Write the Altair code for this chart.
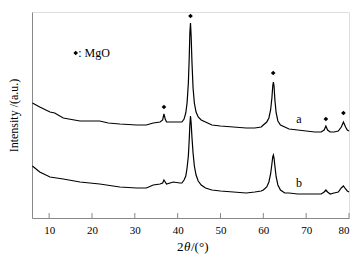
import altair as alt
import pandas as pd

# ---- data ----
two_theta_a = [6.1, 7.8, 10.2, 11.3, 13.3, 17.2, 21.8, 23.8, 26.5, 30.4, 32.7, 34.3, 35.9, 36.5, 36.8, 37.1, 37.4, 39.0,
               40.5, 41.0, 41.5, 41.9, 42.2, 42.5, 42.7, 42.85, 43.0, 43.15, 43.35, 43.6, 43.9, 44.3, 44.8, 45.5,
               46.5, 48.0, 50.0, 53.0, 56.0, 58.0, 59.5, 60.0, 60.8, 61.3, 61.7, 62.0, 62.2, 62.35, 62.5, 62.7, 63.0,
               63.4, 64.0, 65.0, 66.0, 68.0, 70.0, 72.0, 73.5, 74.2, 74.6, 75.0, 75.6, 76.5, 77.5, 78.2, 78.7, 79.2,
               79.6, 80.0]
intensity_a = [115, 111, 106, 105, 100, 97, 97, 95, 94, 93, 93, 95, 96, 98, 104, 99, 96, 96,
               96, 96, 99, 105, 115, 135, 160, 185, 195, 182, 155, 130, 115, 106, 101, 98,
               96, 93, 92, 91, 90, 90, 91, 93, 96, 100, 108, 120, 132, 136, 132, 118, 105,
               97, 93, 91, 89, 88, 87, 86, 86, 88, 92, 88, 86, 86, 87, 91, 96, 91,
               88, 87]
two_theta_b = [6.1, 7.8, 10.2, 13.3, 17.2, 21.8, 26.5, 30.4, 32.7, 34.3, 35.9, 36.5, 36.8, 37.1, 37.4, 39.0,
               40.5, 41.0, 41.5, 41.9, 42.2, 42.5, 42.7, 42.85, 43.0, 43.15, 43.35, 43.6, 43.9, 44.3, 44.8, 45.5,
               46.5, 48.0, 50.0, 53.0, 56.0, 58.0, 59.5, 60.0, 60.8, 61.3, 61.7, 62.0, 62.2, 62.35, 62.5, 62.7, 63.0,
               63.4, 64.0, 65.0, 66.0, 68.0, 70.0, 72.0, 73.5, 74.2, 74.6, 75.0, 75.6, 76.5, 77.5, 78.2, 78.7, 79.2,
               79.6, 80.0]
intensity_b = [52, 46, 41, 39, 36, 34, 31, 30, 30, 33, 34, 35, 38, 36, 34, 36,
               35, 35, 38, 42, 50, 62, 78, 93, 102, 95, 80, 65, 52, 43, 37, 33,
               30, 28, 27, 26, 25, 26, 27, 28, 31, 36, 44, 54, 61, 63, 60, 52, 41,
               33, 28, 25, 25, 24, 24, 24, 24, 26, 28, 26, 24, 25, 26, 30, 32, 29,
               27, 26]

mgo_x = [36.8, 43.0, 62.3, 74.6, 78.7]
mgo_y = [111, 202, 145, 99, 105]

curve_names = ["a", "b"]
label_x = [68.3, 68.3]
label_y = [99, 35]

legend_x = [16.2]
legend_y = [165]
legend_text = [": MgO"]

tick_values = [10, 20, 30, 40, 50, 60, 70, 80]

# ---- tables ----
lines = pd.concat([
    pd.DataFrame({"x": two_theta_a, "y": intensity_a, "s": "a"}),
    pd.DataFrame({"x": two_theta_b, "y": intensity_b, "s": "b"}),
])
marks = pd.DataFrame({"x": mgo_x + legend_x, "y": mgo_y + legend_y})
labels = pd.DataFrame({"x": label_x, "y": label_y, "t": curve_names})
legend = pd.DataFrame({"x": [v + 0.6 for v in legend_x], "y": legend_y, "t": legend_text})
ticks = pd.DataFrame({"t": tick_values})

FONT = "'Liberation Serif', 'DejaVu Serif', serif"
xscale = alt.Scale(domain=[6, 80], nice=False, zero=False)
yscale = alt.Scale(domain=[0, 206], nice=False, zero=False)

line = alt.Chart(lines).mark_line(color="black", strokeWidth=1.2).encode(
    x=alt.X("x:Q", scale=xscale, axis=alt.Axis(
        values=tick_values, ticks=False, grid=False, title=None,
        labelFont=FONT, labelFontSize=11, labelColor="black", labelPadding=6,
        domainColor="#888888")),
    y=alt.Y("y:Q", scale=yscale, axis=alt.Axis(
        labels=False, ticks=False, grid=False, title="Intensity /(a.u.)",
        titleFont=FONT, titleFontSize=12, titleFontWeight="normal", titleColor="black",
        titlePadding=12, domainColor="#888888")),
    detail="s:N",
)

tick_layer = alt.Chart(ticks).mark_rule(color="#888888", strokeWidth=1).encode(
    x=alt.X("t:Q", scale=xscale), y=alt.datum(0), y2=alt.datum(5))

pts = alt.Chart(marks).mark_point(shape="diamond", filled=True, color="black", size=22, opacity=1).encode(
    x=alt.X("x:Q", scale=xscale), y=alt.Y("y:Q", scale=yscale))

lab = alt.Chart(labels).mark_text(font=FONT, fontSize=12, color="black", align="center", baseline="middle").encode(
    x=alt.X("x:Q", scale=xscale), y=alt.Y("y:Q", scale=yscale), text="t:N")

leg = alt.Chart(legend).mark_text(font=FONT, fontSize=12, color="black", align="left", baseline="middle").encode(
    x=alt.X("x:Q", scale=xscale), y=alt.Y("y:Q", scale=yscale), text="t:N")

xt1 = alt.Chart(pd.DataFrame({"t": ["2"]})).mark_text(
    font=FONT, fontSize=13, color="black", align="left", baseline="middle").encode(
    x=alt.value(145), y=alt.value(235), text="t:N")
xt2 = alt.Chart(pd.DataFrame({"t": ["θ"]})).mark_text(
    font=FONT, fontSize=13, fontStyle="italic", color="black", align="left", baseline="middle").encode(
    x=alt.value(152), y=alt.value(235), text="t:N")
xt3 = alt.Chart(pd.DataFrame({"t": ["/(°)"]})).mark_text(
    font=FONT, fontSize=13, color="black", align="left", baseline="middle").encode(
    x=alt.value(159), y=alt.value(235), text="t:N")

chart = alt.layer(line, tick_layer, pts, lab, leg, xt1, xt2, xt3).properties(
    width=317, height=206,
    autosize=alt.AutoSizeParams(type="none"),
    padding={"left": 24, "top": 4, "right": 5, "bottom": 42},
).configure_view(stroke="#888888", strokeWidth=1).configure(background="white", font=FONT)

chart.save("out.html", embed_options={"renderer": "svg", "actions": False})
